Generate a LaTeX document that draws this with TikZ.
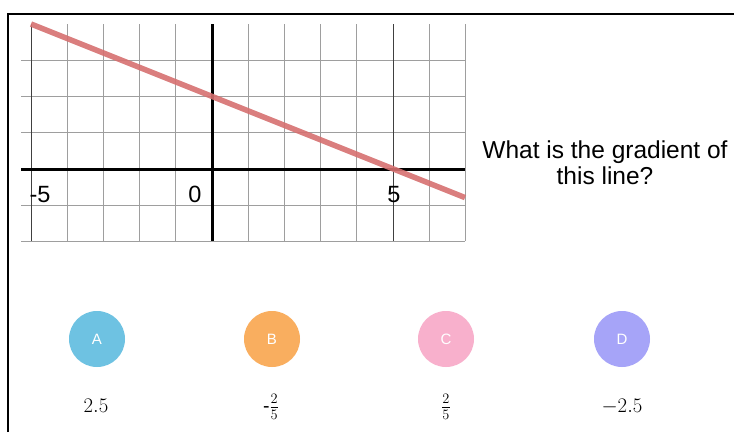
\documentclass[tikz,border=0pt]{standalone}
\usepackage[no-math]{fontspec}
\setmainfont{Liberation Sans}
\definecolor{ansA}{RGB}{110,194,226}
\definecolor{ansB}{RGB}{249,174,95}
\definecolor{ansC}{RGB}{248,176,204}
\definecolor{ansD}{RGB}{166,164,248}
\definecolor{redline}{RGB}{214,112,112}
\begin{document}
\begin{tikzpicture}[x=1pt,y=-1pt,
  gridline/.style={draw=black!38, line width=1.3pt},
  markline/.style={draw=black!75, line width=1pt},
  axisline/.style={draw=black, line width=3pt},
  ticklabel/.style={font=\fontsize{23.5}{26}\selectfont, anchor=base, inner sep=0pt},
  bubble/.style={circle, minimum size=56pt, inner sep=0pt, text=white, font=\fontsize{15}{17}\selectfont},
  answer/.style={font=\fontsize{19.5}{22}\selectfont, anchor=base, inner sep=0pt}]
\useasboundingbox (0,0) rectangle (734,432);
\fill[white] (0,0) rectangle (734,432);
\draw[line width=1.6pt] (8,432) -- (8,14) -- (734,14);
% grid
\foreach \i in {-4,...,4,6,7} {\draw[gridline] ({212+36.2*\i},24) -- ({212+36.2*\i},241);}
\foreach \j in {-2,...,3} {\draw[gridline] (21,{169-36.2*\j}) -- (465,{169-36.2*\j});}
\draw[markline] (31,24) -- (31,241);
\draw[markline] (393,24) -- (393,241);
\coordinate (xl) at (21,169);
\coordinate (xr) at (465,169);
\coordinate (yt) at (212,24);
\coordinate (yb) at (212,241);
\draw[axisline] (xl) -- (xr);
\draw[axisline] (yt) -- (yb);
\coordinate (la) at (31,24);
\coordinate (lb) at (465,197.6);
\draw[redline, opacity=0.9, line width=5.5pt] (la) -- (lb);
\node[ticklabel] (tm5) at (40,202) {-5};
\node[ticklabel] (t0) at (195,202) {0};
\node[ticklabel] (t5) at (394,202) {5};
\node[font=\fontsize{24.5}{26}\selectfont, align=center, anchor=base, inner sep=0pt] (q) at (605,184) {What is the gradient of\\this line?};
\node[bubble, fill=ansA] (A) at (97,339) {A};
\node[bubble, fill=ansB] (B) at (272,339) {B};
\node[bubble, fill=ansC] (C) at (446,339) {C};
\node[bubble, fill=ansD] (D) at (622,339) {D};
\node[answer] (a1) at (96,412) {$2.5$};
\node[answer] (a2) at (271,412) {-$\frac{2}{5}$};
\node[answer] (a3) at (446,412) {$\frac{2}{5}$};
\node[answer] (a4) at (622,412) {$-2.5$};
\end{tikzpicture}
\end{document}
